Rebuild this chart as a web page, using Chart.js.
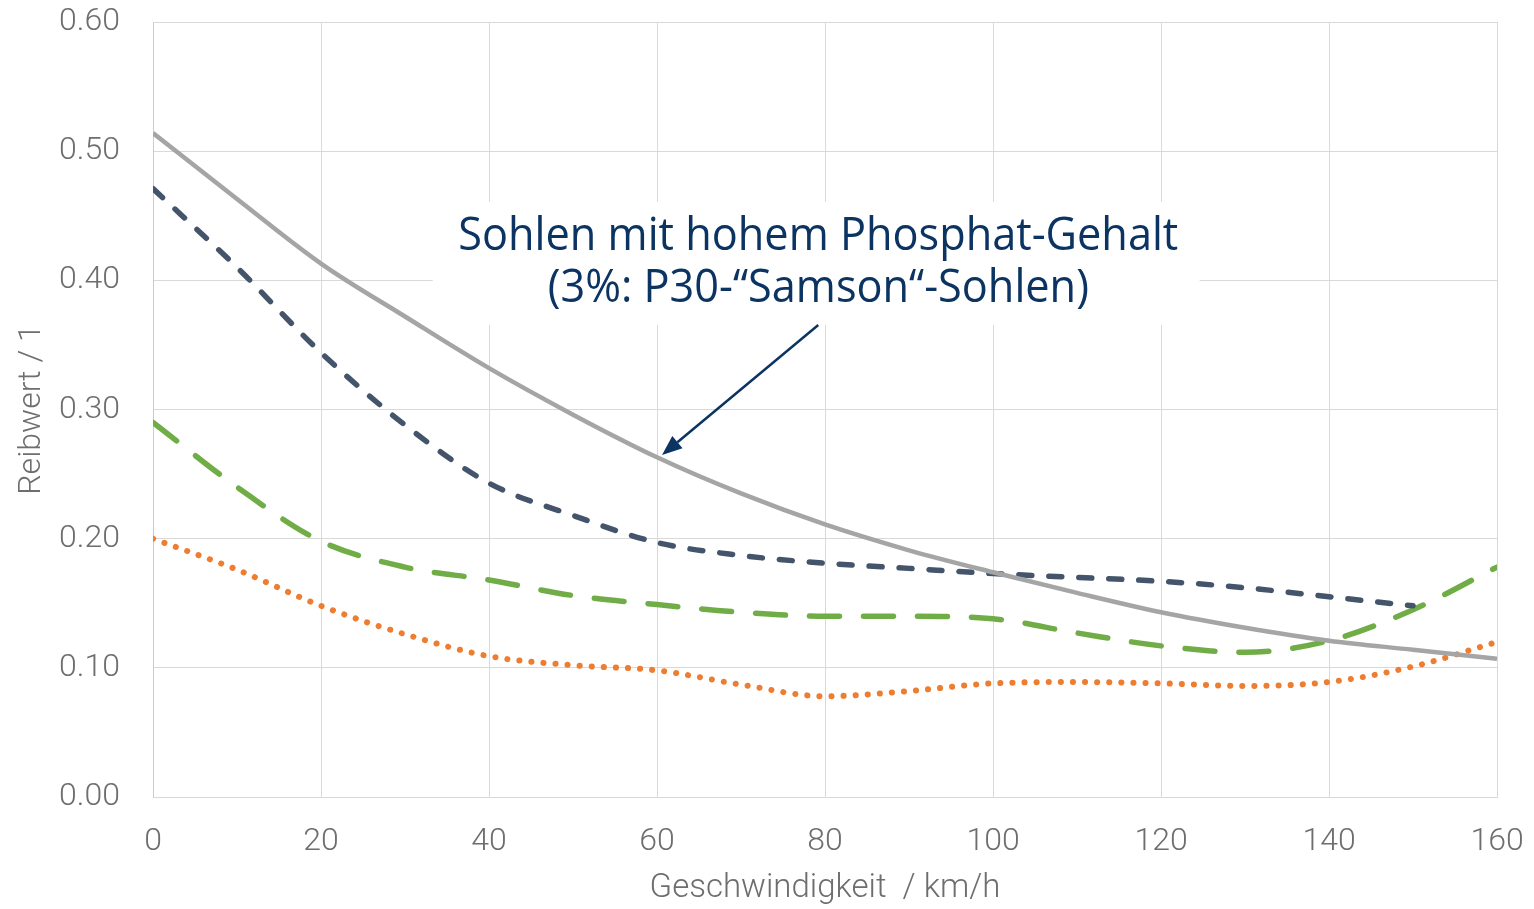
<!DOCTYPE html>
<html><head><meta charset="utf-8">
<script src="https://cdn.jsdelivr.net/npm/chart.js@4/dist/chart.umd.min.js"></script>
<style>html,body{margin:0;padding:0;background:#fff;overflow:hidden}#wrap{width:1534px;height:909px;position:relative}</style>
</head><body><div id="wrap"><canvas id="c" width="1534" height="909"></canvas></div>
<script>
// ---- data ----
const speeds       = [0, 10, 20, 30, 40, 50, 60, 70, 80, 90, 100, 110, 120, 130, 140, 150, 160];
const greySolid    = [0.514, 0.463, 0.413, 0.372, 0.332, 0.296, 0.263, 0.235, 0.211, 0.191, 0.174, 0.158, 0.143, 0.131, 0.121, 0.114, 0.107];
const navyDashed   = [0.471, 0.410, 0.344, 0.288, 0.243, 0.218, 0.197, 0.187, 0.181, 0.177, 0.173, 0.170, 0.167, 0.162, 0.155, 0.148, null];
const greenDashed  = [0.290, 0.240, 0.198, 0.178, 0.168, 0.156, 0.149, 0.143, 0.140, 0.140, 0.138, 0.127, 0.117, 0.112, 0.121, 0.145, 0.178];
const orangeDotted = [0.200, 0.176, 0.148, 0.126, 0.109, 0.102, 0.098, 0.087, 0.078, 0.082, 0.088, 0.089, 0.088, 0.086, 0.089, 0.101, 0.120];
const xTickValues  = [0, 20, 40, 60, 80, 100, 120, 140, 160];
const yTickValues  = [0.0, 0.1, 0.2, 0.3, 0.4, 0.5, 0.6];
const xTitle = 'Geschwindigkeit  / km/h';
const yTitle = 'Reibwert / 1';
const noteLines = ['Sohlen mit hohem Phosphat-Gehalt', '(3%: P30-\u201CSamson\u201C-Sohlen)'];
// annotation anchors in data units
const noteBox   = {x0: 33.3, x1: 124.6, y0: 0.3654, y1: 0.4607};
const noteText  = {x: 79.2, y: [0.4335, 0.3935]};
const noteArrow = {from: [79.2, 0.3654], to: [60.6, 0.2648]};

const pts = arr => speeds.map((s, i) => ({x: s, y: arr[i]}));
const tickFont = {family: 'Roboto', size: 32, weight: 300};
const grid = {color: '#d9d9d9', lineWidth: 1, drawTicks: false};
const txtCol = '#6e6e6e';

const notePlugin = {
  id: 'note',
  beforeDatasetsDraw(chart) {
    const {ctx, scales: {x, y}} = chart;
    const l = x.getPixelForValue(noteBox.x0), r = x.getPixelForValue(noteBox.x1);
    const t = y.getPixelForValue(noteBox.y1), b = y.getPixelForValue(noteBox.y0);
    ctx.save(); ctx.fillStyle = '#ffffff'; ctx.fillRect(l, t, r - l, b - t); ctx.restore();
  },
  afterDatasetsDraw(chart) {
    const {ctx, scales: {x, y}} = chart;
    ctx.save();
    const col = '#0b3462';
    const x1 = x.getPixelForValue(noteArrow.from[0]), y1 = y.getPixelForValue(noteArrow.from[1]);
    const x2 = x.getPixelForValue(noteArrow.to[0]),   y2 = y.getPixelForValue(noteArrow.to[1]);
    const ang = Math.atan2(y2 - y1, x2 - x1);
    const hl = 20, hw = 8;
    const bx = x2 - hl * Math.cos(ang), by = y2 - hl * Math.sin(ang);
    ctx.strokeStyle = col; ctx.fillStyle = col; ctx.lineWidth = 2.5;
    ctx.beginPath(); ctx.moveTo(x1, y1); ctx.lineTo(bx, by); ctx.stroke();
    ctx.beginPath(); ctx.moveTo(x2, y2);
    ctx.lineTo(bx + hw * Math.sin(ang), by - hw * Math.cos(ang));
    ctx.lineTo(bx - hw * Math.sin(ang), by + hw * Math.cos(ang));
    ctx.closePath(); ctx.fill();
    ctx.font = '45px "Open Sans"';
    ctx.textAlign = 'center'; ctx.textBaseline = 'middle';
    const cx = x.getPixelForValue(noteText.x);
    const w0 = ctx.measureText(noteLines[0]).width;
    const sx = 720 / w0;
    noteLines.forEach((line, i) => {
      const cy = y.getPixelForValue(noteText.y[i]);
      ctx.save(); ctx.translate(cx, cy); ctx.scale(sx, 1);
      ctx.fillText(line, 0, 0); ctx.restore();
    });
    ctx.restore();
  }
};

new Chart(document.getElementById('c'), {
  type: 'line',
  data: {
    datasets: [
      {data: pts(greySolid), borderColor: '#a5a5a5', borderWidth: 4.5, pointRadius: 0, cubicInterpolationMode: 'monotone', order: 1},
      {data: pts(navyDashed), borderColor: '#44546a', borderWidth: 5.5, borderDash: [13, 17], borderCapStyle: 'round', pointRadius: 0, cubicInterpolationMode: 'monotone', order: 2},
      {data: pts(greenDashed), borderColor: '#70ad47', borderWidth: 5.5, borderDash: [30, 24], borderCapStyle: 'round', pointRadius: 0, cubicInterpolationMode: 'monotone', order: 3},
      {data: pts(orangeDotted), borderColor: '#ed7d31', borderWidth: 6, borderDash: [0.1, 12], borderCapStyle: 'round', pointRadius: 0, cubicInterpolationMode: 'monotone', order: 4}
    ]
  },
  options: {
    responsive: false, animation: false, devicePixelRatio: 1,
    layout: {padding: {left: 0, right: 37, top: 22, bottom: 0}},
    plugins: {legend: {display: false}, tooltip: {enabled: false}},
    scales: {
      x: {
        type: 'linear', min: 0, max: 160,
        afterBuildTicks: s => { s.ticks = xTickValues.map(v => ({value: v})); },
        afterFit: s => { s.height = 112; s.paddingLeft = 0; s.paddingRight = 0; },
        ticks: {font: tickFont, color: txtCol, padding: 26, maxRotation: 0},
        grid: grid, border: {color: '#d9d9d9'},
        title: {display: true, text: xTitle, font: {family: 'Roboto', size: 33, weight: 300}, color: txtCol, padding: {top: 0, bottom: 0}}
      },
      y: {
        min: 0, max: 0.6,
        afterBuildTicks: s => { s.ticks = yTickValues.map(v => ({value: v})); },
        afterFit: s => { s.width = 153; s.paddingTop = 0; s.paddingBottom = 0; },
        ticks: {font: tickFont, color: txtCol, padding: 33, callback: v => Number(v).toFixed(2)},
        grid: grid, border: {color: '#cccccc'},
        title: {display: true, text: yTitle, font: {family: 'Roboto', size: 32, weight: 300}, color: txtCol, padding: {top: 13, bottom: 0}}
      }
    }
  },
  plugins: [notePlugin]
});
</script></body></html>
